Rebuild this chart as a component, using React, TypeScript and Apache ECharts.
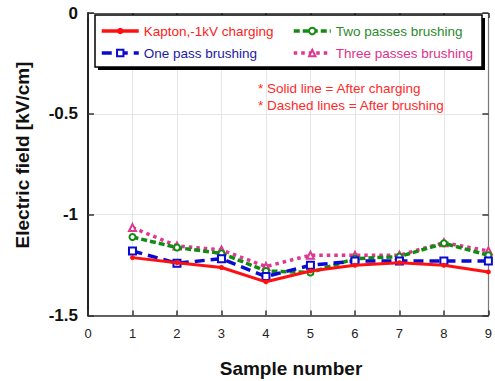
import React, { useEffect, useRef } from "react";
import * as echarts from "echarts";

const samples = [1, 2, 3, 4, 5, 6, 7, 8, 9];
const kapton = [-1.213, -1.238, -1.262, -1.333, -1.279, -1.251, -1.238, -1.251, -1.284];
const onePass = [-1.18, -1.241, -1.218, -1.307, -1.251, -1.23, -1.23, -1.23, -1.23];
const twoPasses = [-1.111, -1.163, -1.192, -1.279, -1.287, -1.218, -1.208, -1.142, -1.201];
const threePasses = [-1.064, -1.155, -1.175, -1.257, -1.201, -1.201, -1.201, -1.139, -1.18];
const seriesNames = ["Kapton,-1kV charging", "One pass brushing", "Two passes brushing", "Three passes brushing"];
const notes = ["* Solid line = After charging", "* Dashed lines = After brushing"];

const FONT = "'Liberation Sans', Arial, sans-serif";

export default function App() {
  const ref = useRef<HTMLDivElement>(null);
  useEffect(() => {
    document.body.style.margin = "0";
    const chart = echarts.init(ref.current!, null, { renderer: "svg" });
    const pair = (vals: number[]) => samples.map((s, i) => [s, vals[i]]);
    const colors = ["#ff1010", "#0a0ad0", "#138a13", "#e0378f"];
    const textColors = ["#ff2020", "#1a1aa8", "#2a8a2a", "#e0308a"];
    const gridLeft = 88, gridTop = 13, gridRight = 2.5, gridBottom = 65.5;
    const legendCommon = {
      z: 10, orient: "vertical", top: 24, padding: 0, itemGap: 8,
      itemWidth: 37, itemHeight: 8,
      lineStyle: { width: 3.5 },
      itemStyle: { borderWidth: 1 },
      textStyle: { fontSize: 13.5, fontFamily: FONT },
    };
    chart.setOption({
      animation: false,
      textStyle: { fontFamily: FONT },
      grid: { left: gridLeft, top: gridTop, right: gridRight, bottom: gridBottom, containLabel: false },
      xAxis: [
        {
          type: "value", min: 0, max: 9, interval: 1,
          axisLine: { show: true, onZero: false, lineStyle: { color: "#333", width: 1.5 } },
          axisTick: { inside: true, length: 5, lineStyle: { color: "#333", width: 1.5 } },
          axisLabel: { color: "#222", fontSize: 13, margin: 11, fontFamily: FONT },
          splitLine: { show: true, lineStyle: { color: "#e6e6e6", width: 1 } },
        },
        {
          type: "value", min: 0, max: 9, interval: 1, position: "top",
          axisLine: { show: true, onZero: false, lineStyle: { color: "#555", width: 1.2 } },
          axisTick: { inside: true, length: 5, lineStyle: { color: "#333", width: 1.5 } },
          axisLabel: { show: false },
          splitLine: { show: false },
        },
      ],
      yAxis: [
        {
          type: "value", min: -1.5, max: 0, interval: 0.5,
          axisLine: { show: true, onZero: false, lineStyle: { color: "#222", width: 2 } },
          axisTick: { inside: true, length: 6, lineStyle: { color: "#333", width: 1.5 } },
          axisLabel: { color: "#111", fontSize: 17, fontWeight: "bold", margin: 10, fontFamily: FONT },
          splitLine: { show: true, lineStyle: { color: "#e6e6e6", width: 1 } },
        },
        {
          type: "value", min: -1.5, max: 0, interval: 0.5, position: "right",
          axisLine: { show: true, onZero: false, lineStyle: { color: "#777", width: 1.2 } },
          axisTick: { inside: true, length: 6, lineStyle: { color: "#333", width: 1.5 } },
          axisLabel: { show: false },
          splitLine: { show: false },
        },
      ],
      legend: [
        {
          ...legendCommon, left: 100,
          data: [
            { name: seriesNames[0], textStyle: { color: textColors[0] } },
            { name: seriesNames[1], textStyle: { color: textColors[1] } },
          ],
        },
        {
          ...legendCommon, left: 292,
          data: [
            { name: seriesNames[2], textStyle: { color: textColors[2] } },
            { name: seriesNames[3], textStyle: { color: textColors[3] } },
          ],
        },
      ],
      graphic: [
        { type: "rect", z: 3, shape: { x: 98, y: 18, width: 387, height: 52 }, style: { fill: "#000" } },
        { type: "rect", z: 3, shape: { x: 95, y: 15, width: 387, height: 52 }, style: { fill: "#fff", stroke: "#000", lineWidth: 1.5 } },
        {
          type: "text", z: 10, x: 258, y: 88,
          style: { text: notes[0], fill: "#ff2a2a", font: `13.5px ${FONT}`, verticalAlign: "middle" },
        },
        {
          type: "text", z: 10, x: 258, y: 105,
          style: { text: notes[1], fill: "#ff2a2a", font: `13.5px ${FONT}`, verticalAlign: "middle" },
        },
        {
          type: "text", z: 10, x: 22, y: 155, rotation: Math.PI / 2,
          style: { text: "Electric field [kV/cm]", fill: "#111", font: `bold 19px ${FONT}`, align: "center", verticalAlign: "middle" },
        },
        {
          type: "text", z: 10, x: 291, y: 368,
          style: { text: "Sample number", fill: "#111", font: `bold 19px ${FONT}`, align: "center", verticalAlign: "middle" },
        },
      ],
      series: [
        {
          name: seriesNames[0], type: "line", data: pair(kapton), z: 6,
          symbol: "circle", symbolSize: 5,
          lineStyle: { color: colors[0], width: 3, type: "solid" },
          itemStyle: { color: colors[0] },
        },
        {
          name: seriesNames[1], type: "line", data: pair(onePass), z: 5,
          symbol: "emptyRect", symbolSize: 7,
          lineStyle: { color: colors[1], width: 3.5, type: [10, 6] },
          itemStyle: { color: colors[1], borderWidth: 1 },
        },
        {
          name: seriesNames[2], type: "line", data: pair(twoPasses), z: 4,
          symbol: "emptyCircle", symbolSize: 6,
          lineStyle: { color: colors[2], width: 3.5, type: [6, 3] },
          itemStyle: { color: colors[2], borderWidth: 1 },
        },
        {
          name: seriesNames[3], type: "line", data: pair(threePasses), z: 3,
          symbol: "emptyTriangle", symbolSize: 7,
          lineStyle: { color: colors[3], width: 3.5, type: [3.5, 4] },
          itemStyle: { color: colors[3], borderWidth: 1 },
        },
      ],
    });
    return () => chart.dispose();
  }, []);
  return <div ref={ref} style={{ width: 495, height: 381 }} />;
}
